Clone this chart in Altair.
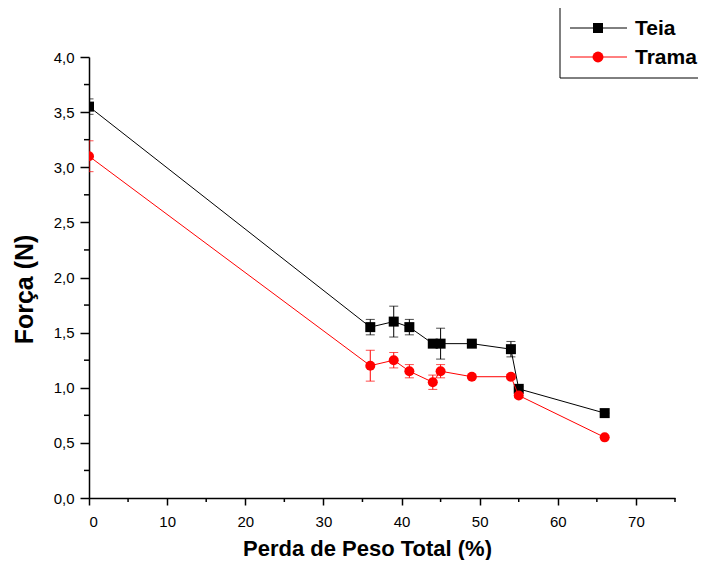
import altair as alt
import pandas as pd

# ---- data ----
perda = [0, 36, 39, 41, 44, 45, 49, 54, 55, 66]
teia = [3.55, 1.55, 1.60, 1.55, 1.40, 1.40, 1.40, 1.35, 0.99, 0.77]
teia_err = [0.07, 0.07, 0.14, 0.07, 0.03, 0.14, 0.0, 0.07, 0.02, 0.0]
trama = [3.10, 1.20, 1.25, 1.15, 1.05, 1.15, 1.10, 1.10, 0.93, 0.55]
trama_err = [0.14, 0.14, 0.07, 0.06, 0.065, 0.06, 0.0, 0.02, 0.02, 0.0]
series_names = ["Teia", "Trama"]
series_colors = ["#000000", "#FF0000"]

x_major = [0, 10, 20, 30, 40, 50, 60, 70]
x_minor = [5, 15, 25, 35, 45, 55, 65, 75]
y_major = [0.0, 0.5, 1.0, 1.5, 2.0, 2.5, 3.0, 3.5, 4.0]
y_minor = [0.25, 0.75, 1.25, 1.75, 2.25, 2.75, 3.25, 3.75]

FONT = "Liberation Sans"
W, H = 586, 441

def frame(x, y, e, name):
    return pd.DataFrame({"x": x, "y": y, "lo": [a - b for a, b in zip(y, e)],
                         "hi": [a + b for a, b in zip(y, e)], "s": name})

df_teia = frame(perda, teia, teia_err, "Teia")
df_trama = frame(perda, trama, trama_err, "Trama")

xscale = alt.Scale(domain=[0, 75], nice=False, zero=False)
yscale = alt.Scale(domain=[0, 4], nice=False, zero=False)

xaxis = alt.Axis(
    values=x_major, format="d", tickSize=7,
    grid=False, domainColor="black", tickColor="black", domainWidth=1.5, tickWidth=1.5,
    labelFont=FONT, labelFontSize=15, labelColor="black", labelPadding=9,
    title="Perda de Peso Total (%)", titleFont=FONT, titleFontSize=22,
    titleFontWeight="bold", titleColor="black", titleX=278, titleY=50,
    titleBaseline="middle", titleAlign="center",
)
yaxis = alt.Axis(
    values=y_major,
    labelExpr="replace(format(datum.value, '.1f'), '.', ',')",
    tickSize=9,
    grid=False, domainColor="black", tickColor="black", domainWidth=1.5, tickWidth=1.5,
    labelFont=FONT, labelFontSize=15, labelColor="black", labelPadding=6,
    title="Força (N)", titleFont=FONT, titleFontSize=25, titleFontWeight="bold",
    titleColor="black", titleX=-65, titleY=232, titleBaseline="middle", titleAlign="center",
)

X0 = alt.X("x:Q", scale=xscale)

def series(df, color, shape, size):
    base = alt.Chart(df)
    line = base.mark_line(color=color, strokeWidth=1, clip=True).encode(
        x=X0, y=alt.Y("y:Q", scale=yscale))
    bars = base.mark_rule(color=color, strokeWidth=1, clip=True).encode(
        x=X0, y=alt.Y("lo:Q", scale=yscale), y2="hi:Q")
    cap_lo = base.mark_tick(color=color, orient="horizontal", size=9, thickness=1, clip=True).encode(
        x=X0, y=alt.Y("lo:Q", scale=yscale))
    cap_hi = base.mark_tick(color=color, orient="horizontal", size=9, thickness=1, clip=True).encode(
        x=X0, y=alt.Y("hi:Q", scale=yscale))
    pts = base.mark_point(shape=shape, filled=True, color=color, size=size, opacity=1, clip=True).encode(
        x=X0, y=alt.Y("y:Q", scale=yscale))
    return [line, bars, cap_lo, cap_hi, pts]

# axes layer (carries all axis settings)
axes_df = pd.DataFrame({"x": [0], "y": [0]})
axes_layer = alt.Chart(axes_df).mark_point(opacity=0).encode(
    x=alt.X("x:Q", scale=xscale, axis=xaxis),
    y=alt.Y("y:Q", scale=yscale, axis=yaxis))

# minor ticks
xm = alt.Chart(pd.DataFrame({"x": x_minor})).mark_rule(color="black", strokeWidth=1.5).encode(
    x=alt.X("x:Q", scale=xscale), y=alt.value(H), y2=alt.value(H + 4))
ym = alt.Chart(pd.DataFrame({"y": y_minor})).mark_rule(color="black", strokeWidth=1.5).encode(
    y=alt.Y("y:Q", scale=yscale), x=alt.value(0), x2=alt.value(-5))

layers = [axes_layer, xm, ym]
layers += series(df_teia, series_colors[0], "square", 100)
layers += series(df_trama, series_colors[1], "circle", 100)

# ---- legend (drawn by hand, Origin style) ----
leg_df = pd.DataFrame({"s": ["box"]})
box = alt.Chart(leg_df).mark_rect(fill="white", stroke="black", strokeWidth=1).encode(
    x=alt.value(471), x2=alt.value(660), y=alt.value(-51), y2=alt.value(21))
layers.append(box)
rows = [(-29, "square", 100), (0, "circle", 120)]
for name, color, (yy, shape, sz) in zip(series_names, series_colors, rows):
    d = pd.DataFrame({"s": [name]})
    layers.append(alt.Chart(d).mark_rule(color=color, strokeWidth=1).encode(
        x=alt.value(481), x2=alt.value(538), y=alt.value(yy)))
    layers.append(alt.Chart(d).mark_point(shape=shape, filled=True, color=color, size=sz, opacity=1).encode(
        x=alt.value(509), y=alt.value(yy)))
    layers.append(alt.Chart(d).mark_text(font=FONT, fontSize=21, fontWeight="bold", color="black",
                                         align="left", baseline="middle").encode(
        x=alt.value(546), y=alt.value(yy + 1), text="s:N"))

chart = alt.layer(*layers).properties(
    width=W, height=H,
    autosize=alt.AutoSizeParams(type="none"),
    padding={"left": 81, "top": 49, "right": 23, "bottom": 62},
).configure_view(stroke=None)

chart.save("out.html", embed_options={"renderer": "svg", "actions": False})
